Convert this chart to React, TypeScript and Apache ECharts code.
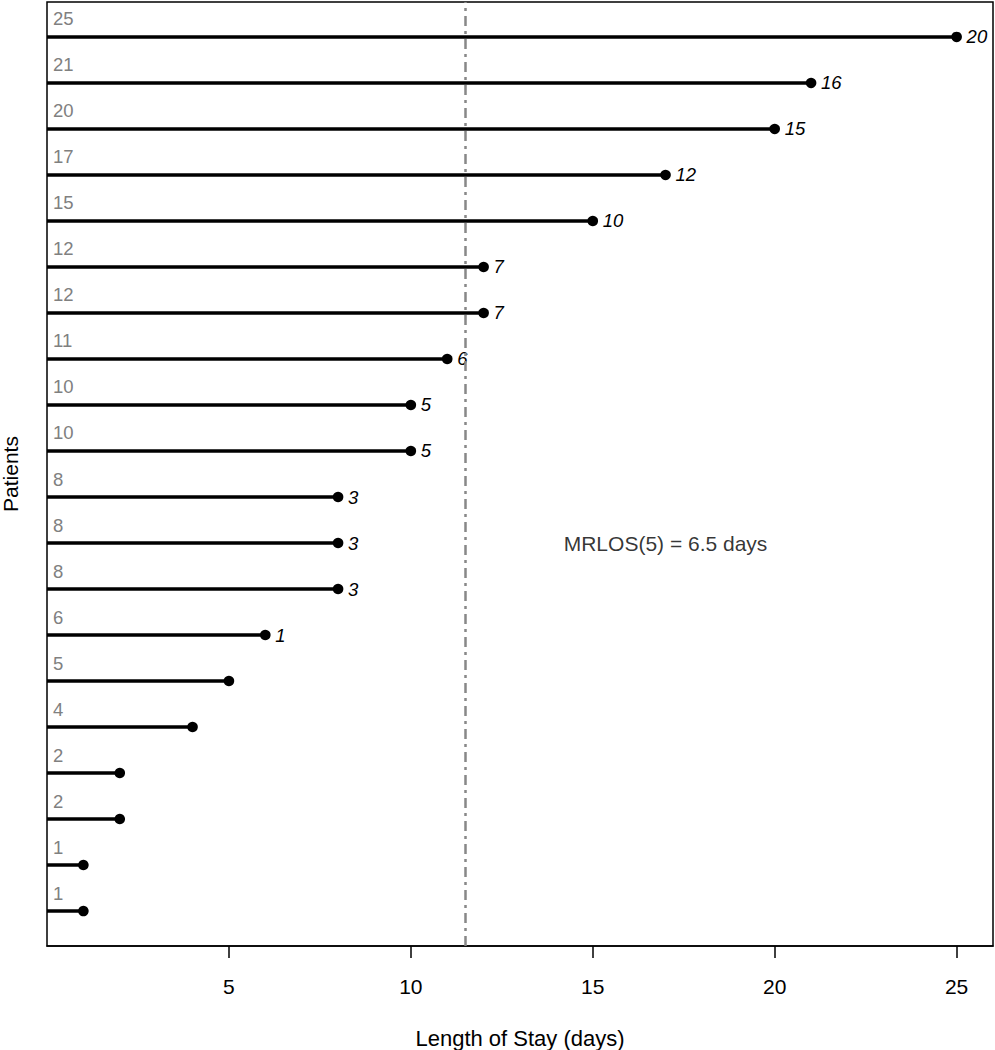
import React, { useEffect, useRef } from "react";
import * as echarts from "echarts";

// Length of stay per patient (bottom row = patient 1)
const patients = [1, 2, 3, 4, 5, 6, 7, 8, 9, 10, 11, 12, 13, 14, 15, 16, 17, 18, 19, 20];
const lengthOfStay = [1, 1, 2, 2, 4, 5, 6, 8, 8, 8, 10, 10, 11, 12, 12, 15, 17, 20, 21, 25];
// Residual stay beyond day 5 (shown in italics at the end of each line)
const residualLabels = ["", "", "", "", "", "", "1", "3", "3", "3", "5", "5", "6", "7", "7", "10", "12", "15", "16", "20"];
const xTicks = [5, 10, 15, 20, 25];
const cutoffLine = 11.5;
const annotationText = "MRLOS(5) = 6.5 days";
const annotationPos = [17, 9];

const FONT = "'Liberation Sans', Arial, Helvetica, sans-serif";

export default function App() {
  const ref = useRef<HTMLDivElement>(null);

  useEffect(() => {
    document.body.style.margin = "0";
    if (!ref.current) return;
    const chart = echarts.init(ref.current, undefined, { renderer: "svg" });

    const data = patients.map((p, i) => [lengthOfStay[i], p]);

    chart.setOption({
      animation: false,
      backgroundColor: "#ffffff",
      textStyle: { fontFamily: FONT },
      grid: {
        left: 47,
        right: 2,
        top: 2,
        bottom: 104,
        outerBoundsMode: "none",
        containLabel: false,
        show: true,
        borderColor: "#000",
        borderWidth: 1.5,
        backgroundColor: "transparent",
      },
      xAxis: {
        type: "value",
        min: 0,
        max: 26,
        interval: 5,
        name: "Length of Stay (days)",
        nameLocation: "middle",
        nameGap: 81,
        nameTextStyle: { fontSize: 22, color: "#000", fontFamily: FONT },
        axisLine: { show: true, lineStyle: { color: "#000", width: 1.5 } },
        axisTick: {
          show: true,
          inside: false,
          length: 12,
          customValues: xTicks,
          lineStyle: { color: "#000", width: 1.5 },
        },
        axisLabel: {
          show: true,
          customValues: xTicks,
          margin: 30,
          fontSize: 21,
          color: "#000",
          fontFamily: FONT,
        },
        splitLine: { show: false },
      },
      yAxis: {
        type: "value",
        min: 0.24,
        max: 20.76,
        name: "Patients",
        nameLocation: "middle",
        nameRotate: 90,
        nameGap: 26,
        nameTextStyle: { fontSize: 21, color: "#000", fontFamily: FONT },
        axisLine: { show: false },
        axisTick: { show: false },
        axisLabel: { show: false },
        splitLine: { show: false },
      },
      series: [
        {
          type: "custom",
          data,
          clip: false,
          renderItem: (params: any, api: any) => {
            const idx = params.dataIndex;
            const v = api.value(0);
            const y = api.value(1);
            const p0 = api.coord([0, y]);
            const p1 = api.coord([v, y]);
            const children: any[] = [
              {
                type: "line",
                shape: { x1: p0[0], y1: p0[1], x2: p1[0], y2: p1[1] },
                style: { stroke: "#000", lineWidth: 3.6 },
              },
              {
                type: "circle",
                shape: { cx: p1[0], cy: p1[1], r: 5.3 },
                style: { fill: "#000" },
              },
              {
                type: "text",
                x: p0[0] + 6,
                y: p0[1] - 18,
                style: {
                  text: String(lengthOfStay[idx]),
                  fill: "#808080",
                  fontSize: 18.5,
                  fontFamily: FONT,
                  align: "left",
                  verticalAlign: "middle",
                },
              },
            ];
            if (residualLabels[idx]) {
              children.push({
                type: "text",
                x: p1[0] + 10,
                y: p1[1],
                style: {
                  text: residualLabels[idx],
                  fill: "#000",
                  fontSize: 18.5,
                  fontStyle: "italic",
                  fontFamily: FONT,
                  align: "left",
                  verticalAlign: "middle",
                },
              });
            }
            return { type: "group", children };
          },
        },
        {
          type: "scatter",
          data: [annotationPos],
          symbolSize: 0,
          silent: true,
          label: {
            show: true,
            position: "inside",
            formatter: annotationText,
            fontSize: 21,
            color: "#000",
            fontFamily: FONT,
          },
          markLine: {
            silent: true,
            symbol: ["none", "none"],
            label: { show: false },
            emphasis: { disabled: true },
            lineStyle: { color: "#888888", width: 2.5, type: [10, 5, 3, 5] },
            data: [{ xAxis: cutoffLine }],
            z: 10,
          },
        },
      ],
    });

    return () => chart.dispose();
  }, []);

  return <div ref={ref} style={{ width: 995, height: 1050 }} />;
}
